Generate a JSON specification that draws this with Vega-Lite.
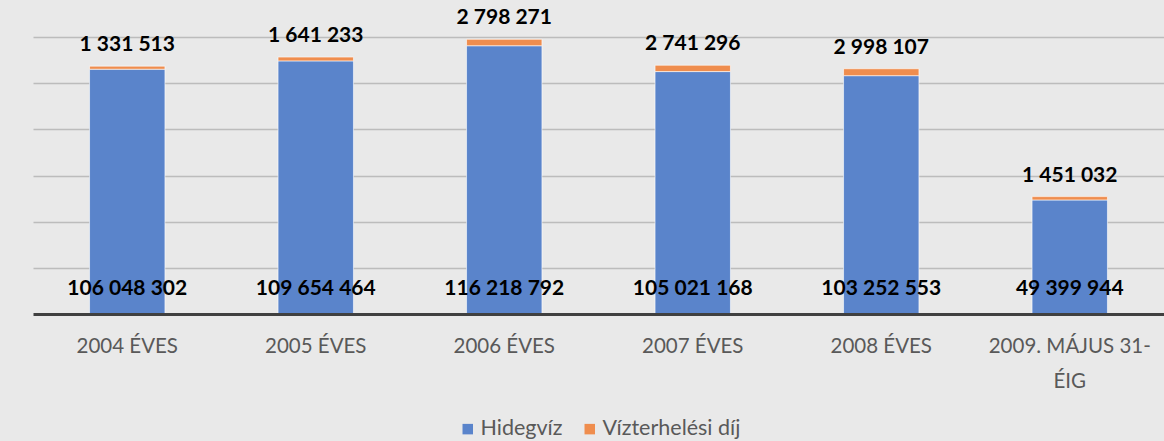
{
  "$schema": "https://vega.github.io/schema/vega-lite/v6.json",
  "autosize": {"type": "none"},
  "width": 1131,
  "height": 277,
  "padding": {"left": 33, "top": 37, "right": 0, "bottom": 127},
  "background": "#e9e9e9",
  "config": {
    "locale": {"number": {"decimal": ",", "thousands": " ", "grouping": [3], "currency": ["", " Ft"]}},
    "view": {"stroke": null},
    "font": "Lato"
  },
  "data": {
    "values": [
      {"cat": "2004 ÉVES", "series": "Hidegvíz", "ord": 1, "value": 106048302},
      {"cat": "2004 ÉVES", "series": "Vízterhelési díj", "ord": 2, "value": 1331513},
      {"cat": "2005 ÉVES", "series": "Hidegvíz", "ord": 1, "value": 109654464},
      {"cat": "2005 ÉVES", "series": "Vízterhelési díj", "ord": 2, "value": 1641233},
      {"cat": "2006 ÉVES", "series": "Hidegvíz", "ord": 1, "value": 116218792},
      {"cat": "2006 ÉVES", "series": "Vízterhelési díj", "ord": 2, "value": 2798271},
      {"cat": "2007 ÉVES", "series": "Hidegvíz", "ord": 1, "value": 105021168},
      {"cat": "2007 ÉVES", "series": "Vízterhelési díj", "ord": 2, "value": 2741296},
      {"cat": "2008 ÉVES", "series": "Hidegvíz", "ord": 1, "value": 103252553},
      {"cat": "2008 ÉVES", "series": "Vízterhelési díj", "ord": 2, "value": 2998107},
      {"cat": "2009. MÁJUS 31-ÉIG", "series": "Hidegvíz", "ord": 1, "value": 49399944},
      {"cat": "2009. MÁJUS 31-ÉIG", "series": "Vízterhelési díj", "ord": 2, "value": 1451032}
    ]
  },
  "encoding": {
    "x": {
      "field": "cat",
      "type": "nominal",
      "sort": null,
      "scale": {"paddingInner": 0.6, "paddingOuter": 0.3},
      "axis": {
        "title": null,
        "labelAngle": 0,
        "labelFont": "Lato",
        "labelFontSize": 20.5,
        "labelColor": "#595959",
        "labelPadding": 22,
        "labelLimit": 0,
        "labelLineHeight": 35,
        "labelExpr": "datum.label == '2009. MÁJUS 31-ÉIG' ? ['2009. MÁJUS 31-', 'ÉIG'] : datum.label",
        "ticks": false,
        "domainColor": "#404040",
        "domainWidth": 3,
        "zindex": 1
      }
    }
  },
  "layer": [
    {
      "mark": {"type": "bar", "stroke": "#ffffff", "strokeWidth": 1, "strokeOpacity": 0.6},
      "encoding": {
        "y": {
          "field": "value",
          "type": "quantitative",
          "stack": "zero",
          "scale": {"domain": [0, 120000000], "nice": false},
          "axis": {
            "title": null,
            "labels": false,
            "ticks": false,
            "domain": false,
            "values": [20000000, 40000000, 60000000, 80000000, 100000000, 120000000],
            "gridColor": "#bcbcbc",
            "gridWidth": 1.5
          }
        },
        "color": {
          "field": "series",
          "type": "nominal",
          "scale": {"domain": ["Hidegvíz", "Vízterhelési díj"], "range": ["#5a84cb", "#ef8d4e"]},
          "legend": {
            "title": null,
            "orient": "none",
            "direction": "horizontal",
            "legendX": 424,
            "legendY": 381,
            "symbolType": "square",
            "symbolSize": 110,
            "symbolStrokeWidth": 0,
            "labelFont": "Lato",
            "labelFontSize": 21.5,
            "labelColor": "#595959",
            "labelOffset": 2,
            "columnPadding": 16,
            "padding": 0
          }
        },
        "order": {"field": "ord", "type": "quantitative"}
      }
    },
    {
      "transform": [
        {"joinaggregate": [{"op": "sum", "field": "value", "as": "total"}], "groupby": ["cat"]},
        {"filter": "datum.series == 'Vízterhelési díj'"}
      ],
      "mark": {"type": "text", "baseline": "bottom", "dy": -11, "fontWeight": "bold", "fontSize": 21, "font": "Lato", "color": "#000000"},
      "encoding": {
        "y": {"field": "total", "type": "quantitative"},
        "text": {"field": "value", "type": "quantitative", "format": ",d"}
      }
    },
    {
      "transform": [{"filter": "datum.series == 'Hidegvíz'"}],
      "mark": {"type": "text", "baseline": "middle", "dy": -25, "fontWeight": "bold", "fontSize": 21, "font": "Lato", "color": "#000000"},
      "encoding": {
        "y": {"datum": 0, "type": "quantitative"},
        "text": {"field": "value", "type": "quantitative", "format": ",d"}
      }
    }
  ]
}
